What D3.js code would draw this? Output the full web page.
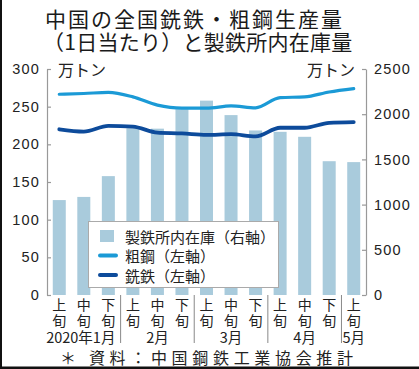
<!DOCTYPE html>
<html><head><meta charset="utf-8">
<script src="https://cdn.jsdelivr.net/npm/d3@7"></script>
<style>html,body{margin:0;padding:0;background:#fff;}body{position:relative;width:419px;height:369px;overflow:hidden;}svg{display:block;}
.ttl{position:absolute;white-space:nowrap;font-family:'Noto Sans CJK JP',sans-serif;font-size:21px;line-height:23px;height:23px;color:#1a1a1a;font-weight:400;}</style>
</head><body>
<script>
const periods = ["上旬","中旬","下旬","上旬","中旬","下旬","上旬","中旬","下旬","上旬","中旬","下旬","上旬"];
const months = [{label:"2020年1月", start:0, end:3},{label:"2月", start:3, end:6},{label:"3月", start:6, end:9},{label:"4月", start:9, end:12},{label:"5月", start:12, end:13}];
const inventory = [1050, 1085, 1315, 1845, 1840, 2055, 2150, 1990, 1820, 1805, 1750, 1480, 1470];
const crudeSteel = [266.5, 267.5, 269, 263, 252, 248, 248, 251, 248.5, 262, 263, 269.5, 274];
const pigIron = [220, 217, 224.5, 223.5, 215.5, 214.5, 212.5, 213.5, 210.5, 222, 222, 228.5, 229.5];
const leftTicks = [0, 50, 100, 150, 200, 250, 300];
const rightTicks = [0, 500, 1000, 1500, 2000, 2500];
const titleLines = ["中国の全国銑鉄・粗鋼生産量", "（1日当たり）と製鉄所内在庫量"];
const legendItems = [{label:"製鉄所内在庫（右軸）", type:"bar"},{label:"粗鋼（左軸）", type:"crude"},{label:"銑鉄（左軸）", type:"pig"}];
const source = "＊ 資料：中国鋼鉄工業協会推計";

const W = 419, H = 369;
const colBar = "#a9cbdc", colCrude = "#1b9ad6", colPig = "#0d4b9b", axisCol = "#999";
const jp = "'Noto Sans CJK JP', sans-serif";
const num = "'Liberation Sans', Arial, sans-serif";

const svg = d3.select("body").append("svg").attr("width", W).attr("height", H);
svg.append("rect").attr("width", W).attr("height", H).attr("fill", "#fff");

const x0 = 47, x1 = 366, yTop = 69, yBot = 295;
const x = d3.scaleBand().domain(d3.range(periods.length)).range([x0, x1]).paddingInner(0.47).paddingOuter(0.235);
const xc = i => x(i) + x.bandwidth() / 2;
const yL = d3.scaleLinear().domain([0, 300]).range([yBot, yTop]);
const yR = d3.scaleLinear().domain([0, 2500]).range([yBot, yTop]);

// title (HTML lines with fixed line height)
d3.select("body").selectAll("div.ttl").data(titleLines).join("div")
  .attr("class", "ttl")
  .style("left", (d, i) => (i === 0 ? 45 : 43) + "px")
  .style("top", (d, i) => (6.8 + i * 23) + "px")
  .style("letter-spacing", (d, i) => i === 0 ? "2px" : "0.25px")
  .text(d => d);

// bars
svg.append("g").selectAll("rect").data(inventory).join("rect")
  .attr("x", (d, i) => x(i)).attr("width", x.bandwidth())
  .attr("y", d => yR(d)).attr("height", d => yBot - yR(d))
  .attr("fill", colBar);

// axes
const axL = d3.axisLeft(yL).tickValues(leftTicks).tickSize(-4).tickPadding(7).tickSizeOuter(0).tickFormat(d3.format("d"));
const gL = svg.append("g").attr("transform", `translate(${x0},0)`).call(axL);
const axR = d3.axisRight(yR).tickValues(rightTicks).tickSize(-4).tickPadding(8).tickSizeOuter(0).tickFormat(d3.format("d"));
const gR = svg.append("g").attr("transform", `translate(${x1},0)`).call(axR);
[gL, gR].forEach(g => {
  g.select(".domain").attr("stroke", axisCol).attr("stroke-width", 1.2);
  g.selectAll(".tick line").attr("stroke", axisCol).attr("stroke-width", 1.2);
  g.selectAll(".tick text").attr("font-family", num).attr("font-size", 14.5).attr("letter-spacing", 1.2).attr("fill", "#222");
});

// unit labels
svg.append("text").attr("x", 58).attr("y", 69).attr("dominant-baseline", "central")
  .attr("font-family", jp).attr("font-size", 16).attr("fill", "#222").text("万トン");
svg.append("text").attr("x", 355).attr("y", 69).attr("dominant-baseline", "central").attr("text-anchor", "end")
  .attr("font-family", jp).attr("font-size", 16).attr("fill", "#222").text("万トン");

// lines
const line = vals => d3.line().x((d, i) => xc(i)).y(d => yL(d)).curve(d3.curveMonotoneX)(vals);
svg.append("path").attr("d", line(crudeSteel)).attr("fill", "none").attr("stroke", colCrude).attr("stroke-width", 3.2).attr("stroke-linecap", "round");
svg.append("path").attr("d", line(pigIron)).attr("fill", "none").attr("stroke", colPig).attr("stroke-width", 3.8).attr("stroke-linecap", "round");

// x labels: 上旬 written vertically
const gx = svg.append("g");
gx.selectAll("text.p").data(periods).join("text")
  .attr("x", (d, i) => xc(i)).attr("y", 298)
  .style("writing-mode", "vertical-rl")
  .attr("letter-spacing", 1.5)
  .attr("font-family", jp).attr("font-size", 14).attr("fill", "#222").text(d => d);
gx.selectAll("text.m").data(months).join("text")
  .attr("x", d => (x(d.start) - x.step() * x.paddingOuter() + x(d.end - 1) + x.bandwidth() + x.step() * x.paddingOuter()) / 2 - (d.start === 0 ? 3 : 0))
  .attr("y", 343).attr("text-anchor", "middle")
  .attr("font-family", jp).attr("font-size", 14.5).attr("fill", "#222").text(d => d.label);
const seps = months.slice(1).map(d => x(d.start) - (x.step() - x.bandwidth()) / 2);
gx.selectAll("line").data(seps).join("line")
  .attr("x1", d => d).attr("x2", d => d).attr("y1", yBot).attr("y2", 343)
  .attr("stroke", "#888").attr("stroke-width", 1);

// legend
const lg = svg.append("g");
lg.append("rect").attr("x", 88.5).attr("y", 221.5).attr("width", 190).attr("height", 66)
  .attr("fill", "#fff").attr("stroke", "#aaa").attr("stroke-width", 1);
const rowsY = [236, 255.5, 275];
legendItems.forEach((d, i) => {
  if (d.type === "bar") {
    lg.append("rect").attr("x", 100).attr("y", rowsY[i] - 6).attr("width", 14).attr("height", 12).attr("fill", colBar);
  } else {
    lg.append("line").attr("x1", 100).attr("x2", 116).attr("y1", rowsY[i]).attr("y2", rowsY[i])
      .attr("stroke", d.type === "crude" ? colCrude : colPig).attr("stroke-width", 4).attr("stroke-linecap", "round");
  }
  lg.append("text").attr("x", 125).attr("y", rowsY[i]).attr("dominant-baseline", "central")
    .attr("font-family", jp).attr("font-size", 15).attr("fill", "#222").text(d.label);
});

// source
svg.append("text").attr("x", 60).attr("y", 357).attr("dominant-baseline", "central")
  .attr("textLength", 293).attr("lengthAdjust", "spacing")
  .attr("font-family", jp).attr("font-size", 16).attr("fill", "#222").text(source);

// frame
svg.append("rect").attr("x", 0).attr("y", 0).attr("width", 2).attr("height", H).attr("fill", "#111");
svg.append("rect").attr("x", 0).attr("y", 366.5).attr("width", W).attr("height", 2.5).attr("fill", "#111");
</script>
</body></html>
